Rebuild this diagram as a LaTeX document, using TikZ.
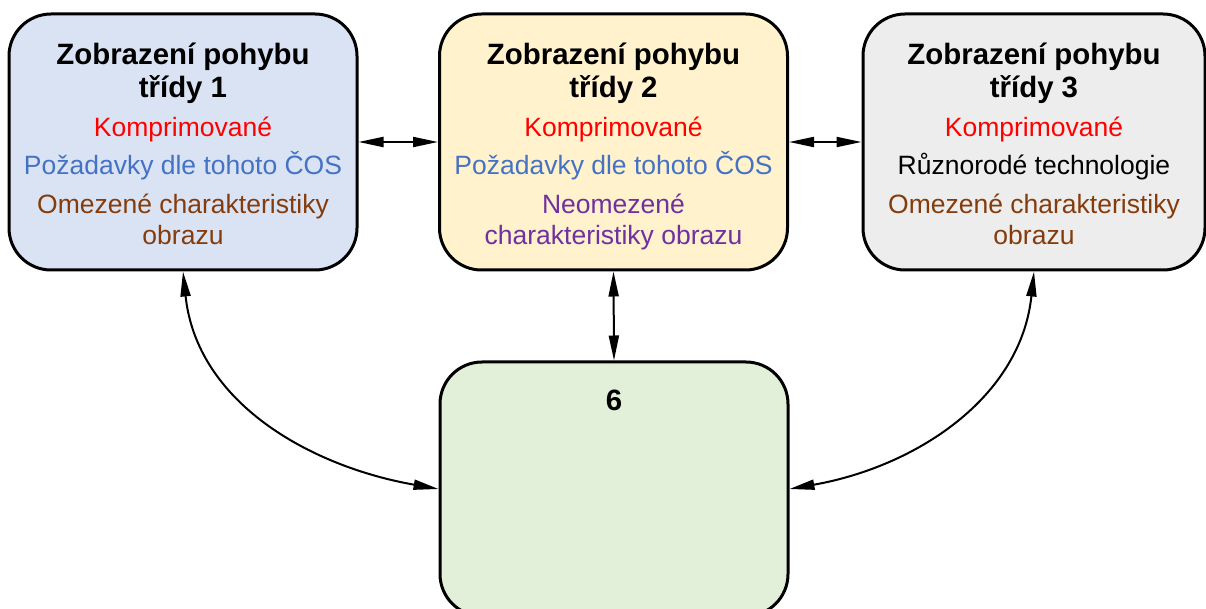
\documentclass[tikz,border=0pt]{standalone}
\usepackage{fontspec}
\setmainfont{Liberation Sans}
\usetikzlibrary{arrows.meta}

\definecolor{fillA}{HTML}{DAE3F3}
\definecolor{fillB}{HTML}{FFF2CC}
\definecolor{fillC}{HTML}{EDEDED}
\definecolor{fillD}{HTML}{E2EFD9}
\definecolor{txtred}{HTML}{FF0000}
\definecolor{txtblue}{HTML}{4472C4}
\definecolor{txtbrown}{HTML}{843C0C}
\definecolor{txtpurple}{HTML}{7030A0}

\tikzset{
  box/.style={draw, line width=1.5pt, rounded corners=21pt, minimum width=174pt, minimum height=128pt},
  title/.style={anchor=base, align=center, font=\fontsize{14.7pt}{16.5pt}\selectfont\bfseries},
  item/.style={anchor=base, align=center, font=\fontsize{13.25pt}{15.5pt}\selectfont},
  arr/.style={{Triangle[length=12.5pt,width=5pt]}-{Triangle[length=12.5pt,width=5pt]}, line width=1pt}
}

\begin{document}
\begin{tikzpicture}[x=0.5pt, y=-0.5pt]
    \useasboundingbox (0,0) rectangle (1206,609);
    % Boxes
    \node[box, fill=fillA] (c1) at (183,142) {};
    \node[box, fill=fillB] (c2) at (613.5,142) {};
    \node[box, fill=fillC, minimum width=171pt] (c3) at (1034,142) {};
    \node[box, fill=fillD, minimum height=127pt] (c6) at (614,489) {};
    % Texts (base = last line)
    \node[title] (t1) at (183,97.5) {Zobrazení pohybu\\třídy 1};
    \node[item, txtred] (k1) at (183,136.5) {Komprimované};
    \node[item, txtblue] (p1) at (183,175) {Požadavky dle tohoto ČOS};
    \node[item, txtbrown] (o1) at (183,244.5) {Omezené charakteristiky\\obrazu};
    \node[title] (t2) at (613.5,97.5) {Zobrazení pohybu\\třídy 2};
    \node[item, txtred] (k2) at (613.5,136.5) {Komprimované};
    \node[item, txtblue] (p2) at (613.5,175) {Požadavky dle tohoto ČOS};
    \node[item, txtpurple] (n2) at (613.5,244.5) {Neomezené\\charakteristiky obrazu};
    \node[title] (t3) at (1034,97.5) {Zobrazení pohybu\\třídy 3};
    \node[item, txtred] (k3) at (1034,136.5) {Komprimované};
    \node[item] (r3) at (1034,175) {Různorodé technologie};
    \node[item, txtbrown] (o3) at (1034,244.5) {Omezené charakteristiky\\obrazu};
    \node[title] (t6) at (614,410.5) {6};
    % Arrows
    \draw[arr] (c1) -- (c2);
    \draw[arr] (c2) -- (c3);
    \draw[arr] (c2.south) -- (c6.north);
    \draw[arr] (c1.south) to[out=-84, in=170] (c6.west);
    \draw[arr] (c3.south) to[out=-96, in=10] (c6.east);
\end{tikzpicture}
\end{document}
